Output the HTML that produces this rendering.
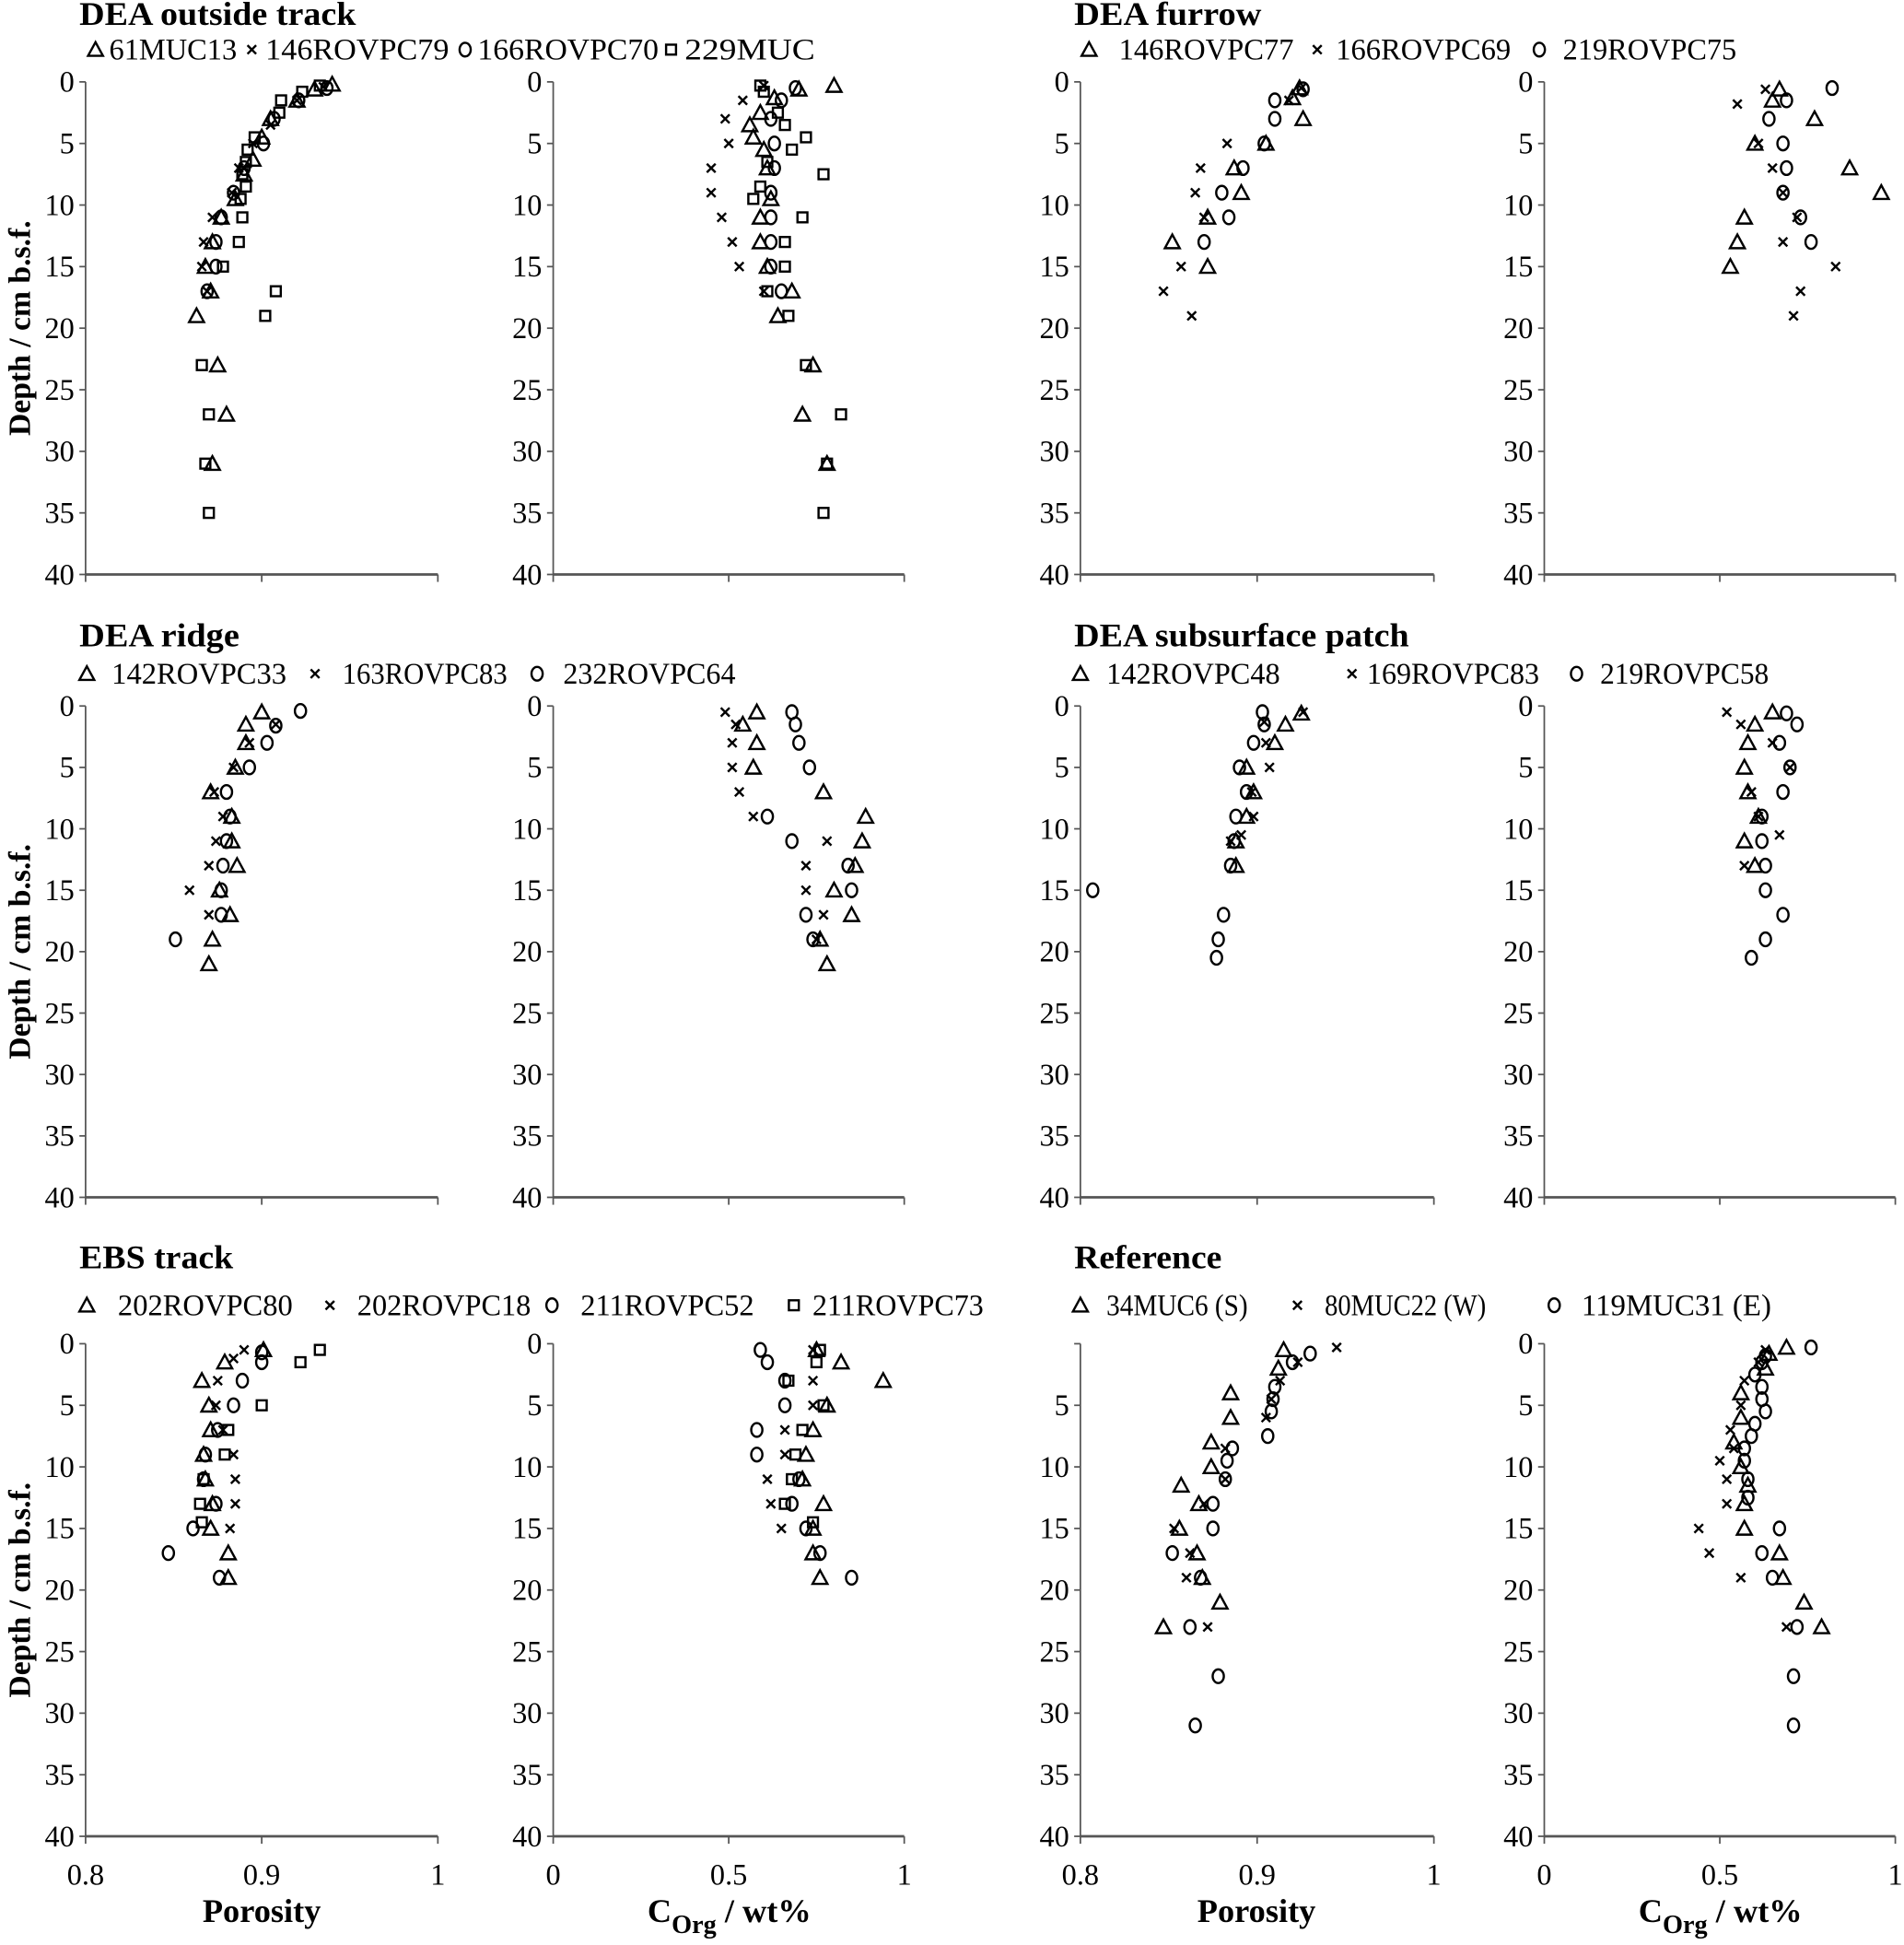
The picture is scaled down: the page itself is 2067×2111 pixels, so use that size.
<!DOCTYPE html>
<html><head><meta charset="utf-8"><style>
html,body{margin:0;padding:0;background:#fff}
svg{display:block}
text{font-family:"Liberation Serif",serif;fill:#000}
</style></head><body>
<svg id="fig" width="2067" height="2111" viewBox="0 0 1535 1567.6" preserveAspectRatio="none" xmlns="http://www.w3.org/2000/svg"></svg>
<script>
// ---------- data: [value, depth] ----------
const yTicks=[0,5,10,15,20,25,30,35,40];
const porTicks=[0.8,0.9,1];
const corgTicks=[0,0.5,1];
const porTickLabels=["0.8","0.9","1"];
const corgTickLabels=["0","0.5","1"];

// Panel 1 DEA outside track
const p1PorTri=[[0.94,0.2],[0.93,0.6],[0.92,1.5],[0.905,3],[0.90,4.5],[0.895,6.3],[0.89,7.5],[0.885,9.5],[0.877,11],[0.872,13],[0.868,15],[0.871,17],[0.863,19],[0.875,23],[0.880,27],[0.872,31]];
const p1PorX=[[0.935,0.4],[0.92,1.5],[0.905,3.5],[0.895,5],[0.887,7],[0.883,9],[0.872,11],[0.867,13],[0.866,15],[0.869,17]];
const p1PorCir=[[0.937,0.5],[0.921,1.5],[0.907,3],[0.901,5],[0.89,7],[0.884,9],[0.877,11],[0.874,13],[0.874,15],[0.869,17]];
const p1PorSq=[[0.933,0.3],[0.923,0.8],[0.911,1.5],[0.91,2.5],[0.896,4.5],[0.892,5.5],[0.891,6.5],[0.889,7.5],[0.891,8.5],[0.888,9.5],[0.889,11],[0.887,13],[0.878,15],[0.908,17],[0.902,19],[0.866,23],[0.87,27],[0.868,31],[0.87,35]];
const p1CorgTri=[[0.80,0.3],[0.70,0.6],[0.63,1.3],[0.59,2.5],[0.56,3.5],[0.57,4.5],[0.60,5.5],[0.61,7],[0.62,9.5],[0.59,11],[0.59,13],[0.61,15],[0.68,17],[0.64,19],[0.74,23],[0.71,27],[0.78,31]];
const p1CorgX=[[0.60,0.3],[0.54,1.5],[0.49,3],[0.50,5],[0.45,7],[0.45,9],[0.48,11],[0.51,13],[0.53,15],[0.60,17]];
const p1CorgCir=[[0.69,0.5],[0.65,1.5],[0.62,3],[0.63,5],[0.63,7],[0.62,9],[0.62,11],[0.62,13],[0.62,15],[0.65,17]];
const p1CorgSq=[[0.59,0.3],[0.60,0.8],[0.64,2.5],[0.66,3.5],[0.72,4.5],[0.68,5.5],[0.61,6.5],[0.77,7.5],[0.59,8.5],[0.57,9.5],[0.71,11],[0.66,13],[0.66,15],[0.61,17],[0.67,19],[0.72,23],[0.82,27],[0.78,31],[0.77,35]];

// Panel 2 DEA furrow
const p2PorTri=[[0.924,0.5],[0.92,1.3],[0.926,3],[0.905,5],[0.887,7],[0.891,9],[0.872,11],[0.852,13],[0.872,15]];
const p2PorX=[[0.925,0.5],[0.918,1.5],[0.883,5],[0.868,7],[0.865,9],[0.87,11],[0.857,15],[0.847,17],[0.863,19]];
const p2PorCir=[[0.926,0.6],[0.91,1.5],[0.91,3],[0.904,5],[0.892,7],[0.88,9],[0.884,11],[0.87,13]];
const p2CorgTri=[[0.67,0.6],[0.65,1.5],[0.77,3],[0.60,5],[0.87,7],[0.96,9],[0.57,11],[0.55,13],[0.53,15]];
const p2CorgX=[[0.63,0.6],[0.55,1.8],[0.61,5],[0.65,7],[0.68,9],[0.72,11],[0.68,13],[0.83,15],[0.73,17],[0.71,19]];
const p2CorgCir=[[0.82,0.5],[0.69,1.5],[0.64,3],[0.68,5],[0.69,7],[0.68,9],[0.73,11],[0.76,13]];

// Panel 3 DEA ridge
const p3PorTri=[[0.90,0.5],[0.891,1.5],[0.891,3],[0.885,5],[0.871,7],[0.883,9],[0.883,11],[0.886,13],[0.876,15],[0.882,17],[0.872,19],[0.87,21]];
const p3PorX=[[0.908,1.5],[0.893,3],[0.884,5],[0.873,7],[0.878,9],[0.874,11],[0.87,13],[0.859,15],[0.87,17]];
const p3PorCir=[[0.922,0.4],[0.908,1.6],[0.903,3],[0.893,5],[0.88,7],[0.882,9],[0.88,11],[0.878,13],[0.877,15],[0.877,17],[0.851,19]];
const p3CorgTri=[[0.58,0.5],[0.54,1.5],[0.58,3],[0.57,5],[0.77,7],[0.89,9],[0.88,11],[0.86,13],[0.80,15],[0.85,17],[0.76,19],[0.78,21]];
const p3CorgX=[[0.49,0.5],[0.52,1.5],[0.51,3],[0.51,5],[0.53,7],[0.57,9],[0.78,11],[0.72,13],[0.72,15],[0.77,17],[0.75,19]];
const p3CorgCir=[[0.68,0.5],[0.69,1.5],[0.70,3],[0.73,5],[0.61,9],[0.68,11],[0.84,13],[0.85,15],[0.72,17],[0.74,19]];

// Panel 4 DEA subsurface patch
const p4PorTri=[[0.925,0.6],[0.916,1.5],[0.91,3],[0.894,5],[0.898,7],[0.894,9],[0.888,11],[0.888,13]];
const p4PorX=[[0.926,0.5],[0.904,1.3],[0.905,3],[0.907,5],[0.897,7],[0.898,9],[0.891,10.5],[0.885,11]];
const p4PorCir=[[0.903,0.5],[0.904,1.5],[0.898,3],[0.89,5],[0.894,7],[0.888,9],[0.887,11],[0.885,13],[0.807,15],[0.881,17],[0.878,19],[0.877,20.5]];
const p4CorgTri=[[0.65,0.5],[0.60,1.5],[0.58,3],[0.57,5],[0.58,7],[0.61,9],[0.57,11],[0.60,13]];
const p4CorgX=[[0.52,0.5],[0.56,1.5],[0.65,3],[0.70,5],[0.59,7],[0.61,9],[0.67,10.5],[0.57,13]];
const p4CorgCir=[[0.69,0.6],[0.72,1.5],[0.67,3],[0.70,5],[0.68,7],[0.62,9],[0.62,11],[0.63,13],[0.63,15],[0.68,17],[0.63,19],[0.59,20.5]];

// Panel 5 EBS track
const p5PorTri=[[0.901,0.5],[0.879,1.5],[0.866,3],[0.87,5],[0.871,7],[0.867,9],[0.868,11],[0.872,13],[0.871,15],[0.881,17],[0.881,19]];
const p5PorX=[[0.89,0.5],[0.884,1.2],[0.875,3],[0.874,5],[0.878,7],[0.884,9],[0.885,11],[0.885,13],[0.882,15]];
const p5PorCir=[[0.9,0.7],[0.9,1.5],[0.889,3],[0.884,5],[0.875,7],[0.868,9],[0.867,11],[0.874,13],[0.861,15],[0.847,17],[0.876,19]];
const p5PorSq=[[0.933,0.5],[0.922,1.5],[0.9,5],[0.881,7],[0.879,9],[0.867,11],[0.865,13],[0.866,14.5]];
const p5CorgTri=[[0.75,0.5],[0.82,1.5],[0.94,3],[0.78,5],[0.74,7],[0.72,9],[0.71,11],[0.77,13],[0.74,15],[0.74,17],[0.76,19]];
const p5CorgX=[[0.74,0.5],[0.74,3],[0.74,5],[0.66,7],[0.66,9],[0.61,11],[0.62,13],[0.65,15]];
const p5CorgCir=[[0.59,0.5],[0.61,1.5],[0.66,3],[0.66,5],[0.58,7],[0.58,9],[0.70,11],[0.68,13],[0.72,15],[0.76,17],[0.85,19]];
const p5CorgSq=[[0.76,0.5],[0.75,1.5],[0.67,3],[0.77,5],[0.71,7],[0.69,9],[0.68,11],[0.66,13],[0.74,14.5]];

// Panel 6 Reference
const p6PorTri=[[0.915,0.5],[0.912,2],[0.885,4],[0.885,6],[0.874,8],[0.874,10],[0.857,11.5],[0.867,13],[0.856,15],[0.866,17],[0.869,19],[0.879,21],[0.847,23]];
const p6PorX=[[0.945,0.3],[0.923,1.5],[0.913,3],[0.908,4.5],[0.905,6],[0.882,8.5],[0.882,11],[0.87,13],[0.853,15],[0.862,17],[0.86,19],[0.872,23]];
const p6PorCir=[[0.93,0.8],[0.92,1.5],[0.91,3.5],[0.909,4.5],[0.908,5.5],[0.906,7.5],[0.886,8.5],[0.883,9.5],[0.882,11],[0.875,13],[0.875,15],[0.852,17],[0.868,19],[0.862,23],[0.878,27],[0.865,31]];
const p6CorgTri=[[0.69,0.3],[0.64,0.8],[0.63,2],[0.56,4],[0.56,6],[0.54,8],[0.56,10],[0.58,11.5],[0.57,13],[0.57,15],[0.67,17],[0.68,19],[0.74,21],[0.79,23]];
const p6CorgX=[[0.63,0.5],[0.61,1.5],[0.57,3],[0.56,5],[0.53,7],[0.54,8.5],[0.50,9.5],[0.52,11],[0.52,13],[0.44,15],[0.47,17],[0.56,19],[0.69,23]];
const p6CorgCir=[[0.76,0.3],[0.63,1],[0.62,1.5],[0.60,2.5],[0.62,3.5],[0.62,4.5],[0.63,5.5],[0.60,6.5],[0.59,7.5],[0.57,8.5],[0.57,9.5],[0.58,11],[0.58,12.5],[0.67,15],[0.62,17],[0.65,19],[0.72,23],[0.71,27],[0.71,31]];

// ---------- drawing ----------
const NS="http://www.w3.org/2000/svg";
const svg=document.getElementById('fig');
function mk(tag,attrs,parent){const e=document.createElementNS(NS,tag);for(const k in attrs)e.setAttribute(k,attrs[k]);(parent||svg).appendChild(e);return e;}

const rowsY=[[66,463],[569,965],[1083,1480]];
const colsX={por:[[69,353],[871,1156]],corg:[[446,729],[1245,1528]]};

function marker(type,cx,cy,g){
  let e;
  if(type==='tri'){e=mk('polygon',{points:`${cx},${cy-6} ${cx-6},${cy+5} ${cx+6},${cy+5}`,fill:'none',stroke:'#000','stroke-width':1.8},g);}
  else if(type==='cir'){e=mk('ellipse',{cx:cx,cy:cy,rx:4.5,ry:5.5,fill:'none',stroke:'#000','stroke-width':1.8},g);}
  else if(type==='sq'){e=mk('rect',{x:cx-4,y:cy-4,width:8,height:8,fill:'none',stroke:'#000','stroke-width':1.8},g);}
  else {e=mk('path',{d:`M${cx-3.5} ${cy-3.5}L${cx+3.5} ${cy+3.5}M${cx+3.5} ${cy-3.5}L${cx-3.5} ${cy+3.5}`,stroke:'#000','stroke-width':1.8},g);}
  return e;
}

function axesPanel(name,xr,yr,dom,ticks,tickLabels,showXLabels,showZero){
  const g=mk('g',{});
  
  
  const xs=v=>xr[0]+(v-dom[0])/(dom[1]-dom[0])*(xr[1]-xr[0]);
  const ys=d=>yr[0]+d/40*(yr[1]-yr[0]);
  const ya=mk('line',{x1:xr[0],y1:yr[0],x2:xr[0],y2:yr[1],stroke:'#555','stroke-width':1.3},g);
  
  
  const xa=mk('line',{x1:xr[0],y1:yr[1],x2:xr[1],y2:yr[1],stroke:'#555','stroke-width':2},g);
  
  
  yTicks.forEach(t=>{
    const y=ys(t);
    mk('line',{x1:xr[0]-5,y1:y,x2:xr[0],y2:y,stroke:'#555','stroke-width':1.3},g);
    if(t===0&&!showZero)return;
    const tx=mk('text',{x:xr[0]-9,y:y+8,'text-anchor':'end','font-size':24},g);
    tx.textContent=t;
    
    
  });
  ticks.forEach((t,i)=>{
    const x=xs(t);
    mk('line',{x1:x,y1:yr[1],x2:x,y2:yr[1]+6,stroke:'#555','stroke-width':1.3},g);
    if(showXLabels){
      const tx=mk('text',{x:x,y:yr[1]+39,'text-anchor':'middle','font-size':24},g);
      tx.textContent=tickLabels[i];
      
      
    }
  });
  return {g,xs,ys};
}
function plotSeries(p,data,type,name){
  data.forEach(d=>{
    const m=marker(type,p.xs(d[0]),p.ys(d[1]),p.g);
    
    
  });
}

const panels=[
 {row:0,col:0,por:[[p1PorTri,'tri'],[p1PorX,'x'],[p1PorCir,'cir'],[p1PorSq,'sq']],corg:[[p1CorgTri,'tri'],[p1CorgX,'x'],[p1CorgCir,'cir'],[p1CorgSq,'sq']]},
 {row:0,col:1,por:[[p2PorTri,'tri'],[p2PorX,'x'],[p2PorCir,'cir']],corg:[[p2CorgTri,'tri'],[p2CorgX,'x'],[p2CorgCir,'cir']]},
 {row:1,col:0,por:[[p3PorTri,'tri'],[p3PorX,'x'],[p3PorCir,'cir']],corg:[[p3CorgTri,'tri'],[p3CorgX,'x'],[p3CorgCir,'cir']]},
 {row:1,col:1,por:[[p4PorTri,'tri'],[p4PorX,'x'],[p4PorCir,'cir']],corg:[[p4CorgTri,'tri'],[p4CorgX,'x'],[p4CorgCir,'cir']]},
 {row:2,col:0,por:[[p5PorTri,'tri'],[p5PorX,'x'],[p5PorCir,'cir'],[p5PorSq,'sq']],corg:[[p5CorgTri,'tri'],[p5CorgX,'x'],[p5CorgCir,'cir'],[p5CorgSq,'sq']]},
 {row:2,col:1,por:[[p6PorTri,'tri'],[p6PorX,'x'],[p6PorCir,'cir']],corg:[[p6CorgTri,'tri'],[p6CorgX,'x'],[p6CorgCir,'cir']]}
];
panels.forEach((P,i)=>{
  const yr=rowsY[P.row];const last=P.row===2;
  const pp=axesPanel('porosity-plot-'+(i+1),colsX.por[P.col],yr,[0.8,1],porTicks,porTickLabels,last,!(i===5));
  P.por.forEach(s=>plotSeries(pp,s[0],s[1],'porosity-point-'+s[1]));
  const pc=axesPanel('corg-plot-'+(i+1),colsX.corg[P.col],yr,[0,1],corgTicks,corgTickLabels,last,true);
  P.corg.forEach(s=>plotSeries(pc,s[0],s[1],'corg-point-'+s[1]));
});

// titles
const titles=[["DEA outside track",64,20,223],["DEA furrow",866,20,151],["DEA ridge",64,521,129],["DEA subsurface patch",866,521,270],["EBS track",64,1022,124],["Reference",866,1022,119]];
titles.forEach(t=>{
  const e=mk('text',{x:t[1],y:t[2],'font-size':27,'font-weight':'bold',textLength:t[3],lengthAdjust:'spacingAndGlyphs'});
  e.textContent=t[0];
  
  
});
// legends: [type, markerX, textX, textEnd, label, baseline]
const legends=[
 ['tri',77,88,191,'61MUC13',48],['x',203,214,362,'146ROVPC79',48],['cir',375,385,531,'166ROVPC70',48],['sq',541,552,657,'229MUC',48],
 ['tri',878,902,1043,'146ROVPC77',48],['x',1062,1077,1218,'166ROVPC69',48],['cir',1241,1260,1400,'219ROVPC75',48],
 ['tri',70,90,231,'142ROVPC33',551],['x',254,276,409,'163ROVPC83',551],['cir',433,454,593,'232ROVPC64',551],
 ['tri',871,892,1032,'142ROVPC48',551],['x',1090,1102,1241,'169ROVPC83',551],['cir',1271,1290,1426,'219ROVPC58',551],
 ['tri',70,95,236,'202ROVPC80',1060],['x',266,288,428,'202ROVPC18',1060],['cir',445,468,608,'211ROVPC52',1060],['sq',640,655,793,'211ROVPC73',1060],
 ['tri',871,892,1006,'34MUC6 (S)',1060],['x',1046,1068,1198,'80MUC22 (W)',1060],['cir',1253,1275,1428,'119MUC31 (E)',1060]
];
legends.forEach(l=>{
  const m=marker(l[0],l[1],l[5]-8);
  
  
  const e=mk('text',{x:l[2],y:l[5],'font-size':24,textLength:l[3]-l[2],lengthAdjust:'spacingAndGlyphs'});
  e.textContent=l[4];
  
  
});
// y-axis titles
rowsY.forEach(r=>{
  const cy=(r[0]+r[1])/2;
  const e=mk('text',{x:0,y:0,'font-size':25,'font-weight':'bold','text-anchor':'middle',transform:`translate(24,${cy}) rotate(-90)`});
  e.textContent='Depth / cm b.s.f.';
  
  
});
// x-axis titles
[211,1013].forEach(x=>{
  const e=mk('text',{x:x,y:1549,'font-size':27,'font-weight':'bold','text-anchor':'middle'});
  e.textContent='Porosity';
  
  
});
[588,1387].forEach(x=>{
  const e=mk('text',{x:x,y:1549,'font-size':27,'font-weight':'bold','text-anchor':'middle'});
  
  
  const a=mk('tspan',{},e);a.textContent='C';
  const b=mk('tspan',{dy:9,'font-size':21},e);b.textContent='Org';
  const c=mk('tspan',{dy:-9},e);c.textContent=' / wt%';
});
</script>
</body></html>
